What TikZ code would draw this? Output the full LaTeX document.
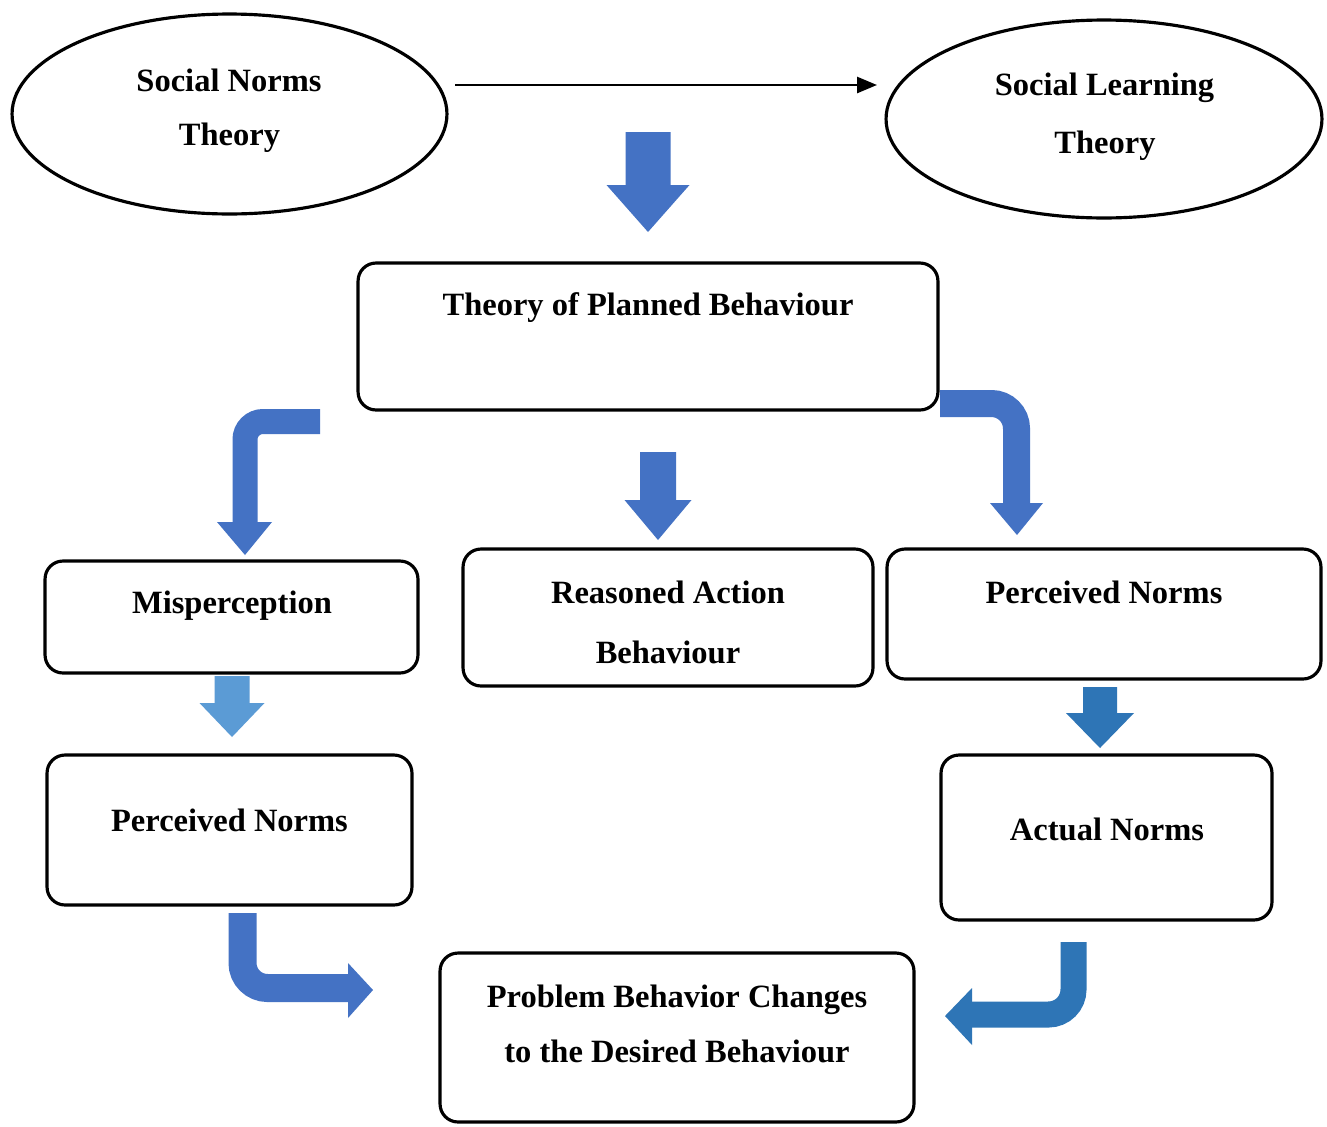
\documentclass[tikz,border=0pt]{standalone}
\usepackage{fontspec}
\setmainfont{Liberation Serif}
\usetikzlibrary{shapes.geometric,arrows.meta}
\definecolor{blueA}{HTML}{4472C4}
\definecolor{blueB}{HTML}{2E75B6}
\definecolor{blueC}{HTML}{5B9BD5}
\newcommand\blockdn[7]{\fill[#7] (#1-#5,#2) -- (#1+#5,#2) -- (#1+#5,#3) -- (#1+#6,#3) -- (#1,#4) -- (#1-#6,#3) -- (#1-#5,#3) -- cycle;}
\begin{document}
\begin{tikzpicture}[x=0.02cm,y=-0.02cm,
  box/.style={draw, line width=1.8pt, rounded corners=0.36cm, inner sep=0pt},
  oval/.style={draw, ellipse, line width=1.8pt, inner sep=0pt},
  lbl/.style={font=\fontsize{18.5}{22}\selectfont\bfseries, anchor=base, inner sep=0pt},
  ]
\useasboundingbox[fill=white] (0,0) rectangle (1327,1126);

% ellipses
\node[oval, minimum width=8.7cm, minimum height=4cm] (snt) at (229.5,114) {};
\node[oval, minimum width=8.72cm, minimum height=3.96cm] (slt) at (1104,119) {};

% boxes
\node[box, minimum width=11.6cm, minimum height=2.94cm] (tpb) at (648,336.5) {};
\node[box, minimum width=7.46cm, minimum height=2.24cm] (mis) at (231.5,617) {};
\node[box, minimum width=8.2cm, minimum height=2.74cm] (rab) at (668,617.5) {};
\node[box, minimum width=8.68cm, minimum height=2.6cm] (pnr) at (1104,614) {};
\node[box, minimum width=7.3cm, minimum height=3.0cm] (pnl) at (229.5,830) {};
\node[box, minimum width=6.62cm, minimum height=3.3cm] (act) at (1106.5,837.5) {};
\node[box, minimum width=9.48cm, minimum height=3.38cm] (pbc) at (677,1037.5) {};

% texts
\node[lbl] (snt1) at (229,91) {Social Norms};
\node[lbl] (snt2) at (229.5,145) {Theory};
\node[lbl] (slt1) at (1104.5,95) {Social Learning};
\node[lbl] (slt2) at (1105,153) {Theory};
\node[lbl] (tpbt) at (648,315) {Theory of Planned Behaviour};
\node[lbl] (mist) at (232,613) {Misperception};
\node[lbl] (rab1) at (668,603) {Reasoned Action};
\node[lbl] (rab2) at (668,663) {Behaviour};
\node[lbl] (pnrt) at (1104,603) {Perceived Norms};
\node[lbl] (pnlt) at (229.5,831) {Perceived Norms};
\node[lbl] (actt) at (1107,840) {Actual Norms};
\node[lbl] (pbc1) at (677,1007) {Problem Behavior Changes};
\node[lbl] (pbc2) at (677,1062) {to the Desired Behaviour};

% thin arrow between the theories
\coordinate (ta) at (455,85);
\coordinate (tb) at (877,85);
\draw[line width=1.5pt, -{Triangle[length=0.4cm,width=0.32cm]}] (ta) -- (tb);

% straight block arrows
\blockdn{648}{132}{185}{232}{22.5}{41.5}{blueA}
\blockdn{658}{452}{500}{540}{18}{33.5}{blueA}
\blockdn{232}{676}{703}{737}{17.5}{32.5}{blueC}
\blockdn{1100}{687}{713}{748}{17}{34}{blueB}

% bent block arrows
\draw[blueA, line width=0.5cm, rounded corners=0.36cm] (320,421.5) -- (245,421.5) -- (245,524);
\fill[blueA] (217,522) -- (272,522) -- (245,555) -- cycle;

\draw[blueA, line width=0.54cm, rounded corners=0.5cm] (940,403.5) -- (1016.5,403.5) -- (1016.5,505);
\fill[blueA] (990,503) -- (1043,503) -- (1017,535) -- cycle;

\draw[blueA, line width=0.56cm, rounded corners=0.5cm] (242.5,913) -- (242.5,988) -- (350,988);
\fill[blueA] (348,963) -- (373,990) -- (348,1018) -- cycle;

\draw[blueB, line width=0.52cm, rounded corners=0.5cm] (1073.5,942) -- (1073.5,1014.5) -- (970,1014.5);
\fill[blueB] (972,988) -- (945,1016) -- (972,1045) -- cycle;
\end{tikzpicture}
\end{document}
